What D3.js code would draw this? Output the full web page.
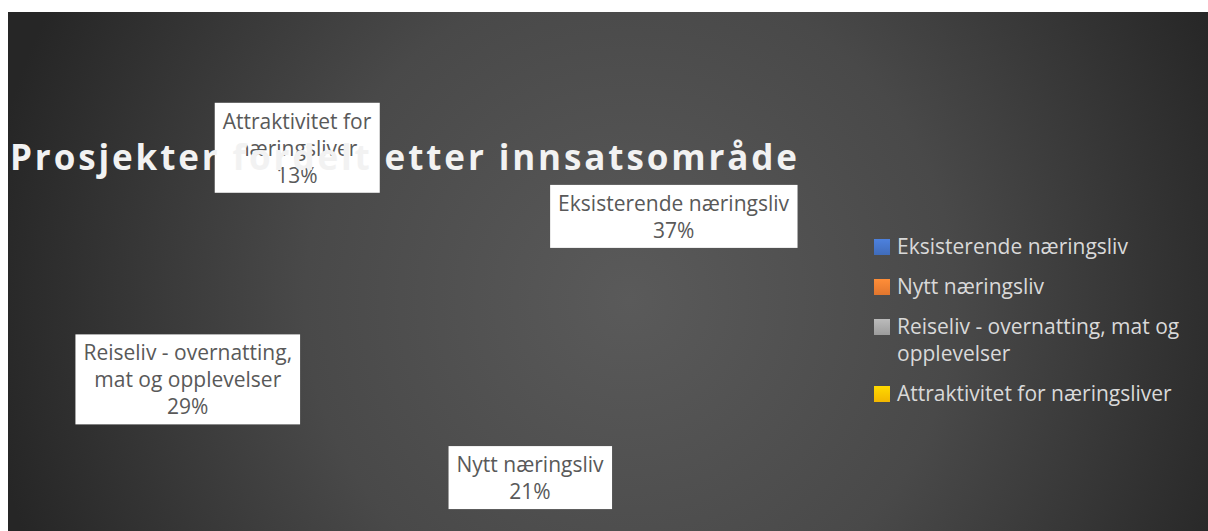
<!DOCTYPE html>
<html>
<head>
<meta charset="utf-8">
<script src="https://cdn.jsdelivr.net/npm/d3@7"></script>
<style>
	body { margin: 0; background: #ffffff; }
	svg { display: block; }
</style>
</head>
<body>
<svg id="chart"></svg>
<script>
// data
var categories = [ "Eksisterende næringsliv", "Nytt næringsliv", "Reiseliv - overnatting, mat og opplevelser", "Attraktivitet for næringsliver" ];
var shares = [ 37, 21, 29, 13 ]; // percent
var sliceColors = [ "#4472c4", "#ed7d31", "#a5a5a5", "#ffc000" ];
var chartTitle = "Prosjekter fordelt etter innsatsområde";

var dimensions = {
	width: 1208,
	height: 531,
	frame: { x: 8, y: 12 },
	pie: { cx: 440, cy: 315, r: 150, labelR: 224 },
	// the labels were dragged by hand in the original, so nudge them off the centroid
	labelOffset: [ [ 28, -9 ], [ 55, -58 ], [ -31, 30 ], [ -54, 39 ] ],
	legend: { x: 874, y: 247, box: 16, step: 40, lineH: 27 }
};

var font = "'Open Sans', 'DejaVu Sans', sans-serif";

var svg = d3.select( "#chart" )
	.attr( "width", dimensions.width )
	.attr( "height", dimensions.height )
	.style( "font-family", font );

var defs = svg.append( "defs" );

// dark radial background
var bg = defs.append( "radialGradient" )
	.attr( "id", "bgGrad" )
	.attr( "gradientUnits", "userSpaceOnUse" )
	.attr( "cx", 630 ).attr( "cy", 300 ).attr( "r", 650 );
bg.append( "stop" ).attr( "offset", 0 ).attr( "stop-color", "#5a5a5a" );
bg.append( "stop" ).attr( "offset", 0.5 ).attr( "stop-color", "#494949" );
bg.append( "stop" ).attr( "offset", 1 ).attr( "stop-color", "#262626" );

svg.append( "rect" )
	.attr( "x", dimensions.frame.x )
	.attr( "y", dimensions.frame.y )
	.attr( "width", dimensions.width - dimensions.frame.x )
	.attr( "height", dimensions.height - dimensions.frame.y )
	.attr( "fill", "url(#bgGrad)" );

// little gradients for the legend keys
sliceColors.forEach( function( c, i ) {
	var g = defs.append( "linearGradient" )
		.attr( "id", "key" + i )
		.attr( "x1", 0 ).attr( "y1", 0 ).attr( "x2", 0 ).attr( "y2", 1 );
	g.append( "stop" ).attr( "offset", 0 ).attr( "stop-color", d3.color( c ).brighter( 0.35 ) );
	g.append( "stop" ).attr( "offset", 1 ).attr( "stop-color", d3.color( c ).darker( 0.15 ) );
} );

var data = categories.map( ( d, i ) => ( { name: d, value: shares[ i ], color: sliceColors[ i ] } ) );

var pie = d3.pie().sort( null ).value( d => d.value );
var arcs = pie( data );

var arc = d3.arc().innerRadius( 0 ).outerRadius( dimensions.pie.r );
var labelArc = d3.arc().innerRadius( dimensions.pie.labelR ).outerRadius( dimensions.pie.labelR );

var pieG = svg.append( "g" )
	.attr( "transform", `translate(${dimensions.pie.cx},${dimensions.pie.cy})` );

// slices have no fill in the original, nothing shows
pieG.selectAll( "path" )
	.data( arcs )
	.enter()
	.append( "path" )
	.attr( "d", arc )
	.attr( "fill", "none" )
	.attr( "stroke", "none" );

// word wrap helper, measures the text node
function wrapLines( textNode, str, maxW ) {
	var words = str.split( " " ), lines = [], cur = "";
	words.forEach( function( w ) {
		var test = cur ? cur + " " + w : w;
		textNode.text( test );
		if ( textNode.node().getComputedTextLength() > maxW && cur ) {
			lines.push( cur );
			cur = w;
		} else {
			cur = test;
		}
	} );
	lines.push( cur );
	textNode.text( "" );
	return lines;
}

// data labels in white boxes
var labelH = 27;
var labels = pieG.selectAll( "g.label" )
	.data( arcs )
	.enter()
	.append( "g" )
	.attr( "class", "label" )
	.attr( "transform", function( d, i ) {
		var c = labelArc.centroid( d );
		var o = dimensions.labelOffset[ i ];
		return `translate(${c[0] + o[0]},${c[1] + o[1]})`;
	} );

labels.each( function( d ) {
	var g = d3.select( this );
	var box = g.append( "rect" ).attr( "fill", "#ffffff" );
	var t = g.append( "text" )
		.attr( "text-anchor", "middle" )
		.style( "font-size", "21px" )
		.attr( "fill", "#595959" );
	var lines = wrapLines( t, d.data.name, 250 );
	lines.push( d.data.value + "%" );
	var top = -( lines.length - 1 ) * labelH / 2;
	lines.forEach( function( l, k ) {
		t.append( "tspan" )
			.attr( "x", 0 )
			.attr( "y", top + k * labelH )
			.attr( "dy", "0.35em" )
			.text( l );
	} );
	var bb = t.node().getBBox();
	box.attr( "x", bb.x - 8 )
		.attr( "y", bb.y - 4 )
		.attr( "width", bb.width + 16 )
		.attr( "height", bb.height + 8 );
} );

// title goes on top of the labels, like in the original
svg.append( "text" )
	.attr( "x", 10 )
	.attr( "y", 170 )
	.attr( "textLength", 787 )
	.attr( "lengthAdjust", "spacing" )
	.style( "font-size", "35px" )
	.style( "font-weight", 700 )
	.attr( "fill", "#f2f2f2" )
	.text( chartTitle );

// legend
var legend = svg.append( "g" )
	.attr( "class", "legend" )
	.attr( "transform", `translate(${dimensions.legend.x},${dimensions.legend.y})` );

var yPos = 0;
data.forEach( function( d, i ) {
	var item = legend.append( "g" ).attr( "transform", `translate(0,${yPos})` );
	item.append( "rect" )
		.attr( "x", 0 )
		.attr( "y", -dimensions.legend.box / 2 )
		.attr( "width", dimensions.legend.box )
		.attr( "height", dimensions.legend.box )
		.attr( "fill", "url(#key" + i + ")" );
	var t = item.append( "text" )
		.style( "font-size", "21px" )
		.attr( "fill", "#d9d9d9" );
	var lines = wrapLines( t, d.name, 305 );
	lines.forEach( function( l, k ) {
		t.append( "tspan" )
			.attr( "x", 23 )
			.attr( "y", k * dimensions.legend.lineH )
			.attr( "dy", "0.35em" )
			.text( l );
	} );
	yPos += dimensions.legend.step + ( lines.length - 1 ) * dimensions.legend.lineH;
} );
</script>
</body>
</html>
